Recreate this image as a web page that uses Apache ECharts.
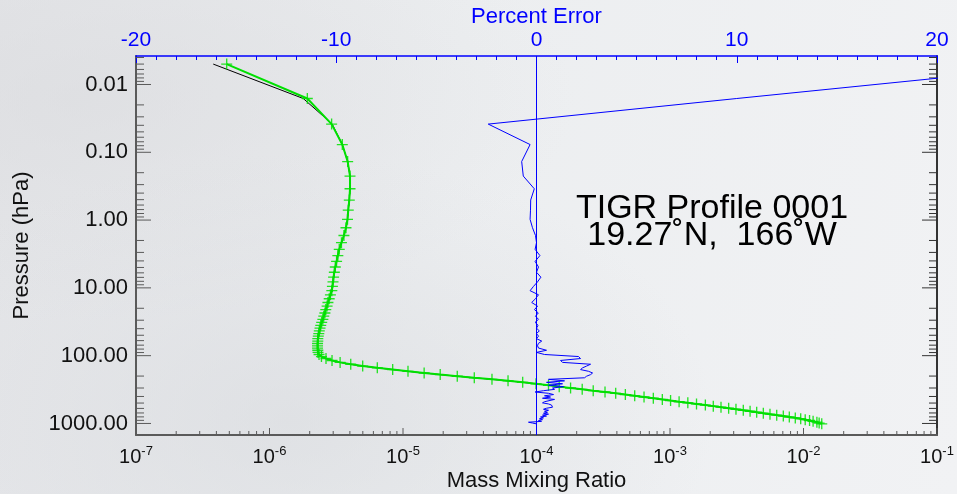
<!DOCTYPE html>
<html>
<head>
<meta charset="utf-8">
<script src="https://cdn.jsdelivr.net/npm/echarts@6/dist/echarts.min.js"></script>
<style>
  html, body { margin: 0; padding: 0; }
  body {
    width: 957px; height: 494px; overflow: hidden;
    background:
      radial-gradient(ellipse at 30% 85%, rgba(214,216,220,0.55) 0%, rgba(214,216,220,0) 45%),
      radial-gradient(ellipse at 8% 20%, rgba(218,219,222,0.6) 0%, rgba(218,219,222,0) 40%),
      linear-gradient(100deg, #e4e5e8 0%, #eceef0 45%, #f1f2f4 100%);
  }
  #chart { width: 957px; height: 494px; }
</style>
</head>
<body>
<div id="chart"></div>
<script>
// Pressure levels (hPa) of the profile
const pressureLevels = [0.005, 0.0161, 0.0384, 0.0769, 0.137, 0.2244, 0.3454, 0.5064, 0.714, 0.9753,
  1.2972, 1.6872, 2.1526, 2.7009, 3.3398, 4.077, 4.9204, 5.8776, 6.9567, 8.1655,
  9.5119, 11.0038, 12.6492, 14.4559, 16.4318, 18.5847, 20.9224, 23.4526, 26.1829, 29.121,
  32.2744, 35.6505, 39.2566, 43.1001, 47.1882, 51.5278, 56.126, 60.9895, 66.1253, 71.5398,
  77.2396, 83.231, 89.5204, 96.1138, 103.017, 110.237, 117.777, 125.646, 133.846, 142.385,
  151.266, 160.496, 170.078, 180.018, 190.32, 200.989, 212.028, 223.441, 235.234, 247.408,
  259.969, 272.919, 286.262, 300, 314.137, 328.675, 343.618, 358.966, 374.724, 390.893,
  407.474, 424.47, 441.882, 459.712, 477.961, 496.63, 515.72, 535.232, 555.167, 575.525,
  596.306, 617.511, 639.14, 661.192, 683.667, 706.565, 729.886, 753.628, 777.79, 802.371,
  827.371, 852.788, 878.62, 904.866, 931.524, 958.591, 986.067, 1013.95];

// Retrieved water vapour mass mixing ratio (green, with markers)
const retrievedMMR = [4.78e-7, 1.92e-6, 2.92e-6, 3.51e-6, 3.85e-6, 4.01e-6, 4.01e-6, 3.96e-6, 3.89e-6, 3.84e-6,
  3.74e-6, 3.61e-6, 3.46e-6, 3.33e-6, 3.25e-6, 3.18e-6, 3.11e-6, 3.06e-6, 3.02e-6, 2.99e-6,
  2.96e-6, 2.93e-6, 2.86e-6, 2.80e-6, 2.74e-6, 2.70e-6, 2.64e-6, 2.60e-6, 2.55e-6, 2.51e-6,
  2.46e-6, 2.42e-6, 2.39e-6, 2.36e-6, 2.34e-6, 2.32e-6, 2.30e-6, 2.30e-6, 2.29e-6, 2.29e-6,
  2.29e-6, 2.30e-6, 2.31e-6, 2.35e-6, 2.45e-6, 2.65e-6, 2.94e-6, 3.38e-6, 4.06e-6, 4.99e-6,
  6.42e-6, 8.37e-6, 1.09e-5, 1.44e-5, 1.90e-5, 2.55e-5, 3.42e-5, 4.64e-5, 6.12e-5, 7.88e-5,
  9.92e-5, 1.23e-4, 1.48e-4, 1.80e-4, 2.20e-4, 2.66e-4, 3.26e-4, 3.92e-4, 4.63e-4, 5.44e-4,
  6.39e-4, 7.50e-4, 8.76e-4, 1.01e-3, 1.17e-3, 1.36e-3, 1.58e-3, 1.84e-3, 2.11e-3, 2.41e-3,
  2.75e-3, 3.12e-3, 3.54e-3, 3.98e-3, 4.46e-3, 5.00e-3, 5.61e-3, 6.30e-3, 7.06e-3, 7.83e-3,
  8.68e-3, 9.53e-3, 1.03e-2, 1.11e-2, 1.18e-2, 1.26e-2, 1.31e-2, 1.37e-2];

// Reference profile (black line)
const truthMMR = [3.79e-7, 1.79e-6, 2.95e-6, 3.51e-6, 3.85e-6, 4.01e-6, 4.01e-6, 3.96e-6, 3.89e-6, 3.84e-6,
  3.74e-6, 3.61e-6, 3.46e-6, 3.33e-6, 3.25e-6, 3.18e-6, 3.11e-6, 3.06e-6, 3.02e-6, 2.99e-6,
  2.96e-6, 2.93e-6, 2.86e-6, 2.80e-6, 2.74e-6, 2.70e-6, 2.64e-6, 2.60e-6, 2.55e-6, 2.51e-6,
  2.46e-6, 2.42e-6, 2.39e-6, 2.36e-6, 2.34e-6, 2.32e-6, 2.30e-6, 2.30e-6, 2.29e-6, 2.29e-6,
  2.29e-6, 2.30e-6, 2.31e-6, 2.35e-6, 2.45e-6, 2.65e-6, 2.94e-6, 3.38e-6, 4.06e-6, 4.99e-6,
  6.42e-6, 8.37e-6, 1.09e-5, 1.44e-5, 1.90e-5, 2.55e-5, 3.42e-5, 4.64e-5, 6.12e-5, 7.88e-5,
  9.92e-5, 1.23e-4, 1.48e-4, 1.80e-4, 2.20e-4, 2.66e-4, 3.26e-4, 3.92e-4, 4.63e-4, 5.44e-4,
  6.39e-4, 7.50e-4, 8.76e-4, 1.01e-3, 1.17e-3, 1.36e-3, 1.58e-3, 1.84e-3, 2.11e-3, 2.41e-3,
  2.75e-3, 3.12e-3, 3.54e-3, 3.98e-3, 4.46e-3, 5.00e-3, 5.61e-3, 6.30e-3, 7.06e-3, 7.83e-3,
  8.68e-3, 9.53e-3, 1.03e-2, 1.11e-2, 1.18e-2, 1.26e-2, 1.31e-2, 1.37e-2];

// Percent error per level (blue, top axis)
const percentError = [27.0, 10.0, -2.41, -0.32, -0.74, -0.66, -0.11, -0.29, -0.30, -0.32,
  -0.20, -0.05, 0.00, -0.07, 0.17, -0.07, 0.10, 0.00, 0.22, 0.05,
  -0.15, -0.32, 0.10, -0.05, -0.24, 0.05, -0.10, 0.09, -0.05, 0.10,
  -0.07, 0.08, 0.00, 0.14, 0.00, 0.10, 0.00, 0.26, 0.09, 0.05,
  0.10, 0.50, 0.00, 0.40, 2.10, 2.20, 1.20, 1.30, 2.70, 2.50,
  2.30, 2.20, 2.60, 2.80, 2.70, 2.50, 2.40, 0.60, 1.40, 0.50,
  1.30, 0.60, 1.35, 0.80, 0.90, 0.35, -0.07, 0.60, 0.85, 0.40,
  0.70, 0.30, 0.90, 0.95, 0.40, 0.30, 0.60, 0.75, 0.70, 0.80,
  0.50, 0.35, 0.60, 0.40, 0.55, 0.35, 0.60, 0.30, 0.50, 0.20,
  0.35, 0.15, 0.30, 0.10, 0.25, -0.40, -0.20, 0.00];

// Axis ranges and labelled ticks
const mmrRange = [1e-7, 1e-1];
const pressureRange = [0.0038, 1480];
const errorRange = [-20, 20];
const pressureTicks = [0.01, 0.1, 1, 10, 100, 1000];
const mmrTicks = [1e-7, 1e-6, 1e-5, 1e-4, 1e-3, 1e-2, 1e-1];

const FONT = "'Liberation Sans', Arial, Helvetica, sans-serif";
const GREEN = '#00e000';
const BLUE = '#0000ff';
const AXIS_GRAY = '#5a5a5a';

const isTick = (v, list) => list.some(t => Math.abs(Math.log10(v) - Math.log10(t)) < 1e-6);

// log-axis tick positions (1..9 per decade)
const yTickData = [];
for (let d = -3; d <= 3; d++) {
  for (let k = 1; k <= 9; k++) {
    const v = k * Math.pow(10, d);
    if (v >= pressureRange[0] && v <= pressureRange[1]) yTickData.push([mmrRange[0], v, k === 1 ? 1 : 0]);
  }
}
const xTickData = [];
for (let d = -7; d <= -1; d++) {
  for (let k = 1; k <= 9; k++) {
    const v = k * Math.pow(10, d);
    if (v >= mmrRange[0] * 0.999 && v <= mmrRange[1] * 1.001) xTickData.push([v, pressureRange[1], k === 1 ? 1 : 0]);
  }
}

const chart = echarts.init(document.getElementById('chart'), null, { renderer: 'canvas' });

const option = {
  animation: false,
  backgroundColor: 'transparent',
  textStyle: { fontFamily: FONT },
  grid: { left: 136, right: 20, top: 56, bottom: 59, containLabel: false, outerBoundsMode: 'none' },
  xAxis: [
    {
      type: 'log', logBase: 10, position: 'bottom',
      min: mmrRange[0], max: mmrRange[1],
      name: 'Mass Mixing Ratio', nameLocation: 'middle', nameGap: 35, nameMoveOverlap: false,
      nameTextStyle: { color: '#111', fontSize: 22, fontFamily: FONT },
      axisLine: { show: true, onZero: false, lineStyle: { color: AXIS_GRAY, width: 2 } },
      axisTick: { show: false },
      splitLine: { show: false },
      axisLabel: {
        margin: 10, color: '#111', fontFamily: FONT,
        formatter: v => {
          if (!isTick(v, mmrTicks)) return '';
          return '{b|10}{s|' + Math.round(Math.log10(v)) + '}';
        },
        rich: {
          b: { fontSize: 20, fontFamily: FONT, color: '#111' },
          s: { fontSize: 13, fontFamily: FONT, color: '#111', padding: [0, 0, 12, 0] }
        }
      }
    },
    {
      type: 'value', position: 'top',
      min: errorRange[0], max: errorRange[1], interval: 10,
      name: 'Percent Error', nameLocation: 'middle', nameGap: 28, nameMoveOverlap: false,
      nameTextStyle: { color: BLUE, fontSize: 22, fontFamily: FONT },
      axisLine: { show: true, onZero: false, lineStyle: { color: BLUE, width: 1.5 } },
      axisTick: { show: true, inside: true, length: 7, lineStyle: { color: BLUE, width: 1 } },
      minorTick: { show: true, splitNumber: 10, length: 4, lineStyle: { color: BLUE, width: 1 } },
      splitLine: { show: false },
      minorSplitLine: { show: false },
      axisLabel: { color: BLUE, fontSize: 21, fontFamily: FONT, margin: 5 }
    }
  ],
  yAxis: [
    {
      type: 'log', logBase: 10, inverse: true, position: 'left',
      min: pressureRange[0], max: pressureRange[1],
      name: 'Pressure (hPa)', nameLocation: 'middle', nameGap: 103, nameRotate: 90, nameMoveOverlap: false,
      nameTextStyle: { color: '#111', fontSize: 22, fontFamily: FONT },
      axisLine: { show: true, onZero: false, lineStyle: { color: AXIS_GRAY, width: 2 } },
      axisTick: { show: false },
      splitLine: { show: false },
      axisLabel: {
        margin: 8, color: '#111', fontSize: 22, fontFamily: FONT,
        showMinLabel: false, showMaxLabel: false,
        formatter: v => isTick(v, pressureTicks) ? v.toFixed(2) : ''
      }
    },
    {
      type: 'log', logBase: 10, inverse: true, position: 'right',
      min: pressureRange[0], max: pressureRange[1],
      axisLine: { show: true, onZero: false, lineStyle: { color: '#333', width: 2 } },
      axisTick: { show: false },
      axisLabel: { show: false },
      splitLine: { show: false }
    }
  ],
  graphic: [
    {
      type: 'text', silent: true, x: 712, y: 209,
      style: { text: 'TIGR Profile 0001', fill: '#000', font: '34px ' + FONT, textAlign: 'center', textVerticalAlign: 'middle' }
    },
    {
      type: 'text', silent: true, x: 712, y: 236,
      style: { text: '19.27\u02DAN,  166\u02DAW', fill: '#000', font: '34px ' + FONT, textAlign: 'center', textVerticalAlign: 'middle' }
    }
  ],
  series: [
    {
      // pressure-axis ticks, both sides
      type: 'custom', xAxisIndex: 0, yAxisIndex: 0, silent: true, clip: false, z: 1,
      data: yTickData,
      renderItem: (params, api) => {
        const p = api.value(1);
        const len = api.value(2) ? 15 : 8;
        const l = api.coord([mmrRange[0], p]);
        const r = api.coord([mmrRange[1], p]);
        return {
          type: 'group',
          children: [
            { type: 'line', shape: { x1: l[0], y1: l[1], x2: l[0] + len, y2: l[1] }, style: { stroke: AXIS_GRAY, lineWidth: 1 } },
            { type: 'line', shape: { x1: r[0] - len, y1: r[1], x2: r[0], y2: r[1] }, style: { stroke: '#333', lineWidth: 1 } }
          ]
        };
      }
    },
    {
      // mixing-ratio axis ticks along the bottom
      type: 'custom', xAxisIndex: 0, yAxisIndex: 0, silent: true, clip: false, z: 1,
      data: xTickData,
      renderItem: (params, api) => {
        const x = api.value(0);
        const len = api.value(2) ? 7 : 4;
        const b = api.coord([x, pressureRange[1]]);
        return { type: 'line', shape: { x1: b[0], y1: b[1], x2: b[0], y2: b[1] - len }, style: { stroke: AXIS_GRAY, lineWidth: 1 } };
      }
    },
    {
      name: 'Reference', type: 'line', xAxisIndex: 0, yAxisIndex: 0, z: 2,
      data: truthMMR.map((m, i) => [m, pressureLevels[i]]),
      showSymbol: false, symbol: 'none',
      lineStyle: { color: '#000', width: 1 }
    },
    {
      name: 'Retrieved', type: 'line', xAxisIndex: 0, yAxisIndex: 0, z: 3,
      data: retrievedMMR.map((m, i) => [m, pressureLevels[i]]),
      symbol: 'path://M4.4,0h1.2v10h-1.2z M0,4.4h10v1.2h-10z', symbolSize: 11,
      itemStyle: { color: GREEN, opacity: 0.85 },
      lineStyle: { color: GREEN, width: 2 }
    },
    {
      name: 'Percent Error', type: 'line', xAxisIndex: 1, yAxisIndex: 0, z: 4,
      data: percentError.map((e, i) => [e, pressureLevels[i]]),
      symbol: 'none',
      lineStyle: { color: BLUE, width: 1 },
      markLine: {
        silent: true, symbol: 'none', label: { show: false },
        lineStyle: { color: BLUE, width: 1, type: 'solid' },
        data: [{ xAxis: 0 }]
      }
    }
  ]
};

chart.setOption(option);
</script>
</body>
</html>
